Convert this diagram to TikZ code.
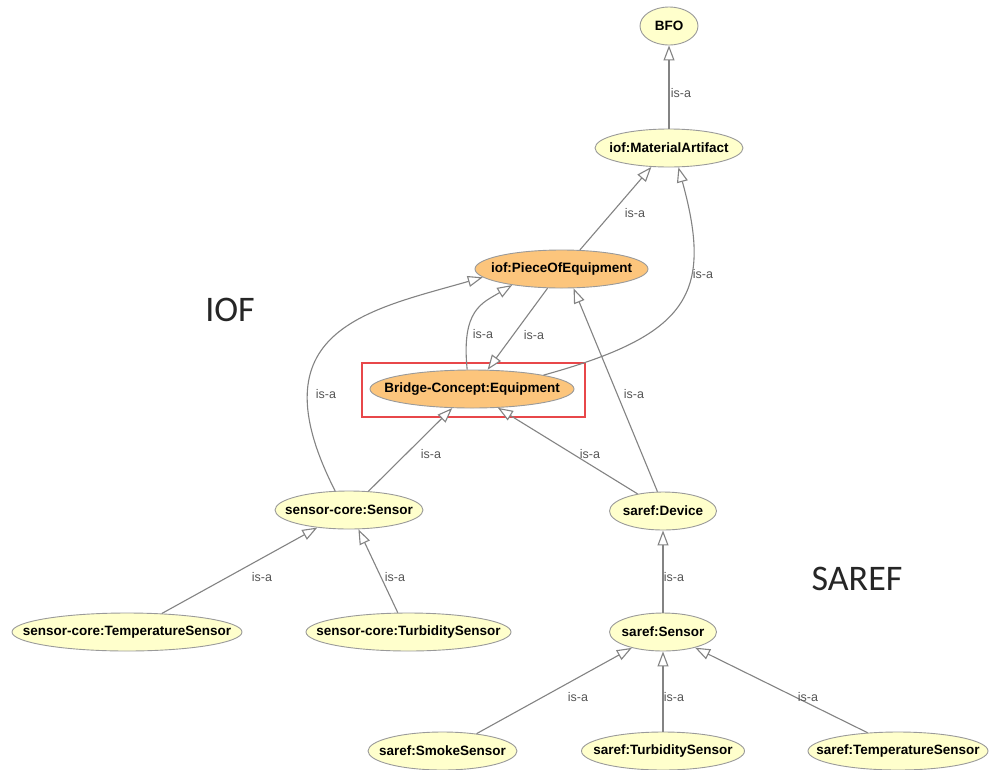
\documentclass[tikz,border=0pt]{standalone}
\usepackage{fontspec}
\setmainfont{Liberation Sans}
\newfontfamily\carl{Carlito}
\usetikzlibrary{shapes.geometric,arrows.meta}
\definecolor{nodey}{HTML}{FFFFCC}
\definecolor{nodeo}{HTML}{FCC57C}
\definecolor{nodeb}{HTML}{9A9A9A}
\definecolor{edgec}{HTML}{838383}
\definecolor{lblc}{HTML}{555555}
\definecolor{redb}{HTML}{E8474A}
\newcommand{\ntxt}[1]{\makebox[0pt][c]{#1}}
\begin{document}
\begin{tikzpicture}[x=1pt,y=-1pt,
  cls/.style={ellipse, draw=nodeb, line width=0.9pt, fill=nodey, inner sep=0pt,
    minimum height=38pt, font=\fontsize{13.5}{14}\selectfont\bfseries, text=black},
  sel/.style={cls, fill=nodeo},
  isa/.style={draw=edgec, line width=1.1pt, -{Triangle[length=15pt,width=11pt,fill=white]}},
  lab/.style={font=\fontsize{12.5}{13}\selectfont, text=lblc, inner sep=0pt},
  big/.style={font=\carl\fontsize{36}{40}\selectfont, text=black!85, inner sep=0pt}]
\useasboundingbox (0,0) rectangle (990,769);
\fill[white] (0,0) rectangle (990,769);

% nodes
\node[cls, minimum width=58pt]  (bfo) at (669,26)  {\ntxt{BFO}};
\node[cls, minimum width=148pt] (ma)  at (669,148) {\ntxt{iof:MaterialArtifact}};
\node[sel, minimum width=173pt] (poe) at (561.5,269) {\ntxt{iof:PieceOfEquipment}};
\node[sel, minimum width=204pt] (bce) at (472,389) {\ntxt{Bridge-Concept:Equipment}};
\node[cls, minimum width=148pt] (sc)  at (349,510) {\ntxt{sensor-core:Sensor}};
\node[cls, minimum width=107pt] (dev) at (663,511) {\ntxt{saref:Device}};
\node[cls, minimum width=230pt] (ct)  at (127,632) {\ntxt{sensor-core:TemperatureSensor}};
\node[cls, minimum width=205pt] (cu)  at (408.5,632) {\ntxt{sensor-core:TurbiditySensor}};
\node[cls, minimum width=107pt] (ss)  at (663,632) {\ntxt{saref:Sensor}};
\node[cls, minimum width=149pt] (sm)  at (442.5,751) {\ntxt{saref:SmokeSensor}};
\node[cls, minimum width=163pt] (st)  at (663,751) {\ntxt{saref:TurbiditySensor}};
\node[cls, minimum width=180pt] (sT)  at (898,751) {\ntxt{saref:TemperatureSensor}};

% highlight box
\draw[redb, line width=1.2pt] (362,363) rectangle (585,417);

% connectors
\draw[isa] (ma.north) -- (bfo.south);
\draw[isa] (poe.46.7) -- (ma.227.4);
\draw[isa] (bce.11.2) .. controls +(145,-40) and +(35,127) .. (ma.-64.5);
\draw[isa] (bce.104.8) .. controls +(-6,-60) and +(-30,18) .. (poe.198);
\draw[isa] (poe.234.3) -- (bce.51.4);
\draw[isa] (sc.126.9) .. controls +(-82,-161) and +(-115,33) .. (poe.186.2);
\draw[isa] (sc.44) -- (bce.224.5);
\draw[isa] (dev.146.8) -- (bce.-36.4);
\draw[isa] (dev.106.2) -- (poe.-58.6);
\draw[isa] (ss.north) -- (dev.south);
\draw[isa] (ct.28.9) -- (sc.209.1);
\draw[isa] (cu.119) -- (sc.-64.5);
\draw[isa] (sm.27.8) -- (ss.207.1);
\draw[isa] (st.north) -- (ss.south);
\draw[isa] (sT.149.2) -- (ss.-26);

% connector labels
\node[lab] (l1)  at (681,93)  {is-a};
\node[lab] (l2)  at (635,213) {is-a};
\node[lab] (l3)  at (703,274) {is-a};
\node[lab] (l4)  at (483,334) {is-a};
\node[lab] (l5)  at (534,335) {is-a};
\node[lab] (l6)  at (326,394) {is-a};
\node[lab] (l7)  at (431,454) {is-a};
\node[lab] (l8)  at (590,454) {is-a};
\node[lab] (l9)  at (634,394) {is-a};
\node[lab] (l10) at (674,577) {is-a};
\node[lab] (l11) at (262,577) {is-a};
\node[lab] (l12) at (395,577) {is-a};
\node[lab] (l13) at (578,697) {is-a};
\node[lab] (l14) at (674,697) {is-a};
\node[lab] (l15) at (808,697) {is-a};

% group titles
\node[big] (iof)   at (230,310) {IOF};
\node[big] (saref) at (857,578.5) {SAREF};
\end{tikzpicture}
\end{document}
